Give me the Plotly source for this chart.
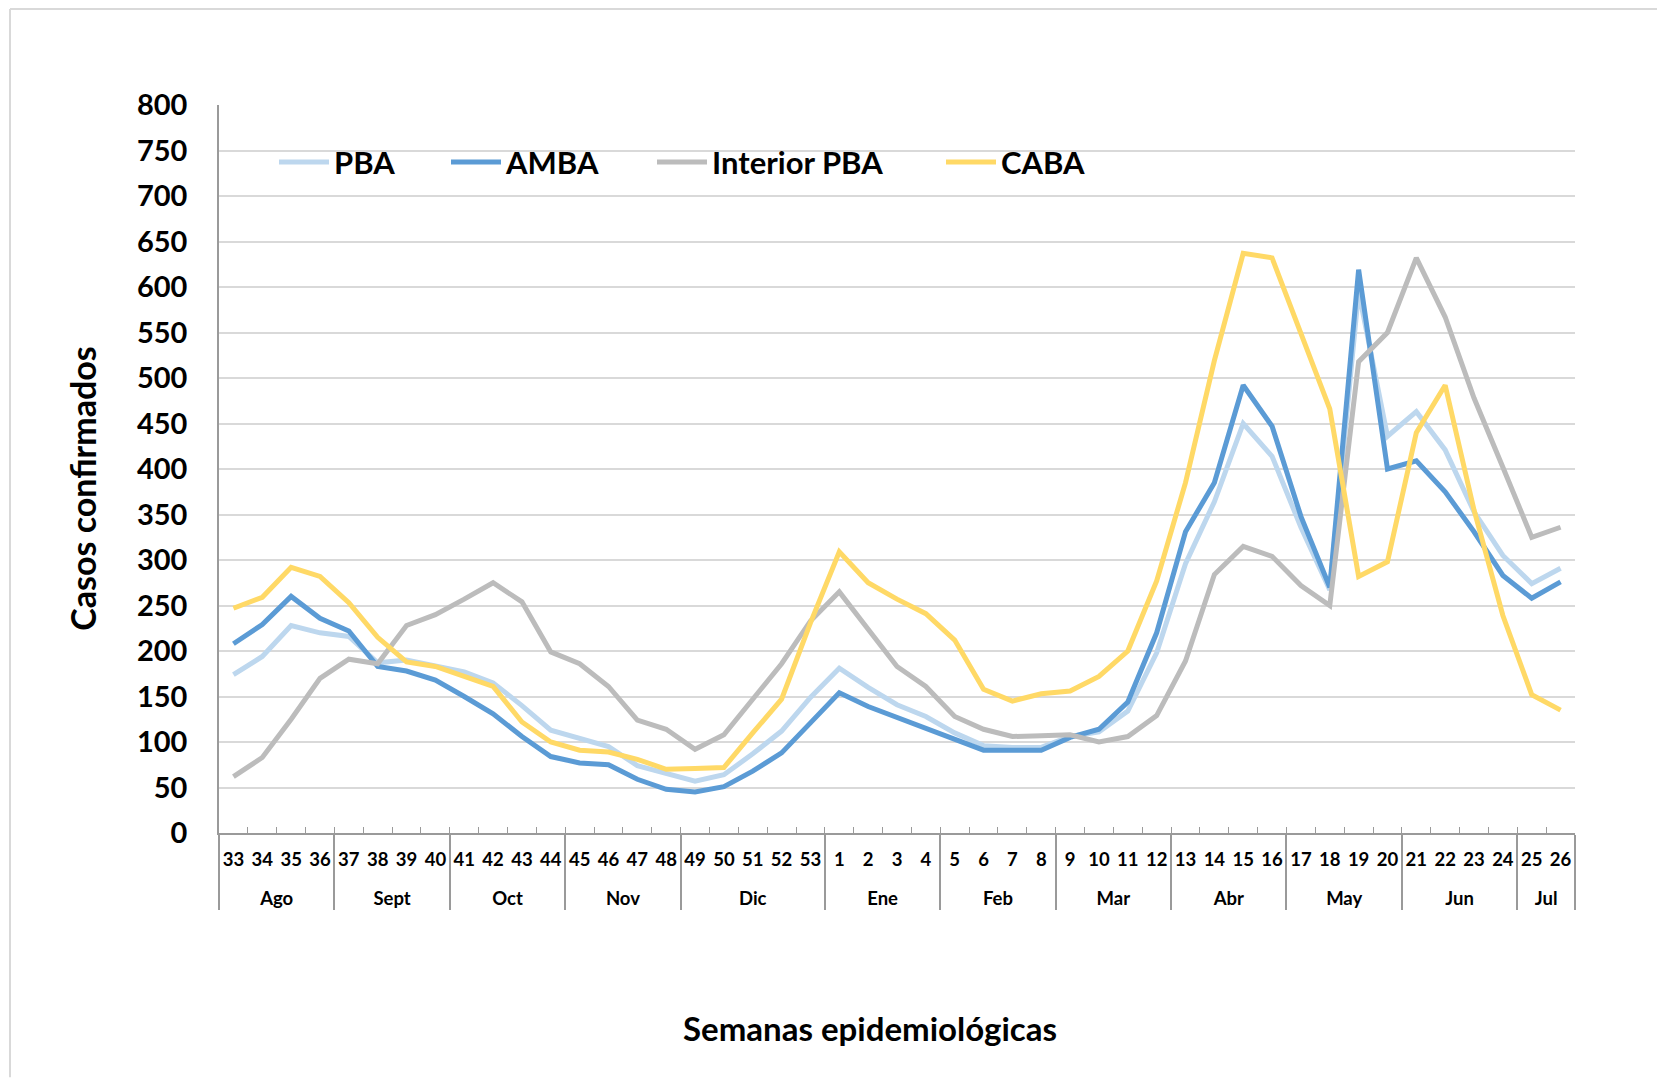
import plotly.graph_objects as go

# epidemiological weeks, grouped by month
month_names = ['Ago', 'Sept', 'Oct', 'Nov', 'Dic', 'Ene', 'Feb', 'Mar', 'Abr', 'May', 'Jun', 'Jul']
month_weeks = [
    ['33', '34', '35', '36'],
    ['37', '38', '39', '40'],
    ['41', '42', '43', '44'],
    ['45', '46', '47', '48'],
    ['49', '50', '51', '52', '53'],
    ['1', '2', '3', '4'],
    ['5', '6', '7', '8'],
    ['9', '10', '11', '12'],
    ['13', '14', '15', '16'],
    ['17', '18', '19', '20'],
    ['21', '22', '23', '24'],
    ['25', '26'],
]

# confirmed cases per week
pba = [174, 194, 228, 220, 216, 187, 190, 184, 177, 165, 140, 113, 104, 95, 74, 65, 57,
       64, 87, 112, 149, 181, 160, 141, 128, 110, 96, 94, 94, 106, 111, 134, 198,
       296, 364, 450, 414, 336, 267, 595, 436, 463, 421, 353, 305, 274, 291]
amba = [208, 229, 260, 236, 222, 183, 178, 168, 150, 131, 106, 84, 77, 75, 59, 48, 45,
        51, 68, 88, 121, 154, 139, 127, 116, 103, 91, 91, 91, 105, 114, 144, 220,
        331, 385, 492, 447, 348, 270, 619, 400, 409, 375, 331, 283, 258, 276]
interior = [62, 83, 125, 170, 191, 186, 228, 240, 257, 275, 254, 199, 186, 161, 124, 114, 92,
            108, 147, 186, 233, 265, 224, 183, 161, 128, 114, 106, 107, 108, 100, 106, 129,
            189, 284, 315, 304, 272, 250, 518, 550, 632, 567, 478, 402, 325, 336]
caba = [247, 259, 292, 282, 253, 215, 188, 183, 172, 161, 122, 100, 91, 89, 81, 70, 71,
        72, 110, 147, 231, 309, 275, 257, 241, 212, 158, 145, 153, 156, 172, 200, 277,
        385, 519, 637, 632, 549, 466, 282, 298, 440, 492, 355, 239, 152, 135]

series = [('PBA', pba, '#BDD7EE'), ('AMBA', amba, '#5B9BD5'),
          ('Interior PBA', interior, '#BCBCBC'), ('CABA', caba, '#FFD966')]

# month label pushed one line down so the month row sits lower, as in the original
x_month = ['<br>' + m for m, wk in zip(month_names, month_weeks) for w in wk]
x_week = [w for wk in month_weeks for w in wk]
n_weeks = len(x_week)

# page has an 8px body margin, so the figure is shifted/sized to compensate
W, H = 1657, 1070
ml, mt = 211, 97
pw = 1567 - ml
ph = 825.5 - mt
mr, mb = W - ml - pw, H - mt - ph


def px(x):
    return (x - ml) / pw


def py(y):
    return (mt + ph - y) / ph


def bold(size):
    return dict(family='Lato', color='black', weight='bold', size=size)


legend_x = [266, 438, 644, 933]

fig = go.Figure()
for i, (name, vals, col) in enumerate(series):
    lg = 'legend' if i == 0 else 'legend%d' % (i + 1)
    fig.add_trace(go.Scatter(x=[x_month, x_week], y=vals, name=name, mode='lines',
                             line=dict(color=col, width=5), legend=lg))
    fig.update_layout({lg: dict(x=px(legend_x[i]), xanchor='left', y=py(154.5), yanchor='middle',
                                font=bold(31), bgcolor='rgba(0,0,0,0)', itemwidth=50)})

fig.update_layout(
    width=W, height=H,
    margin=dict(l=ml, r=mr, t=mt, b=mb, autoexpand=False),
    paper_bgcolor='white', plot_bgcolor='white',
    font=bold(18),
    showlegend=True,
    xaxis=dict(type='multicategory', range=[-0.5, n_weeks - 0.5],
               showline=True, linecolor='#9a9a9a', linewidth=1.5,
               ticks='inside', ticklen=6, tickcolor='#9a9a9a', tickwidth=1.2,
               tickfont=bold(18.5), tickangle=0, ticklabelstandoff=9,
               showdividers=True, dividercolor='#9a9a9a', dividerwidth=1.5,
               showgrid=False, zeroline=False),
    yaxis=dict(range=[0, 800], dtick=50, showgrid=True, gridcolor='#d9d9d9', gridwidth=1.5,
               showline=True, linecolor='#9a9a9a', linewidth=1.5, zeroline=False,
               tickfont=bold(29), ticks='', ticklabelstandoff=24),
)

fig.add_annotation(text='Semanas epidemiológicas', xref='paper', yref='paper',
                   x=px(862), y=py(1021), xanchor='center', yanchor='middle',
                   showarrow=False, font=bold(33))
fig.add_annotation(text='Casos confirmados', xref='paper', yref='paper',
                   x=px(75), y=py(481), xanchor='center', yanchor='middle',
                   showarrow=False, textangle=-90, font=bold(34))

# light frame around the chart
fig.add_shape(type='line', xref='paper', yref='paper', x0=px(2), x1=px(W), y0=py(1), y1=py(1),
              line=dict(color='#d9d9d9', width=2))
fig.add_shape(type='line', xref='paper', yref='paper', x0=px(2), x1=px(2), y0=py(1), y1=py(H),
              line=dict(color='#d9d9d9', width=2))

fig.write_html("out.html")
